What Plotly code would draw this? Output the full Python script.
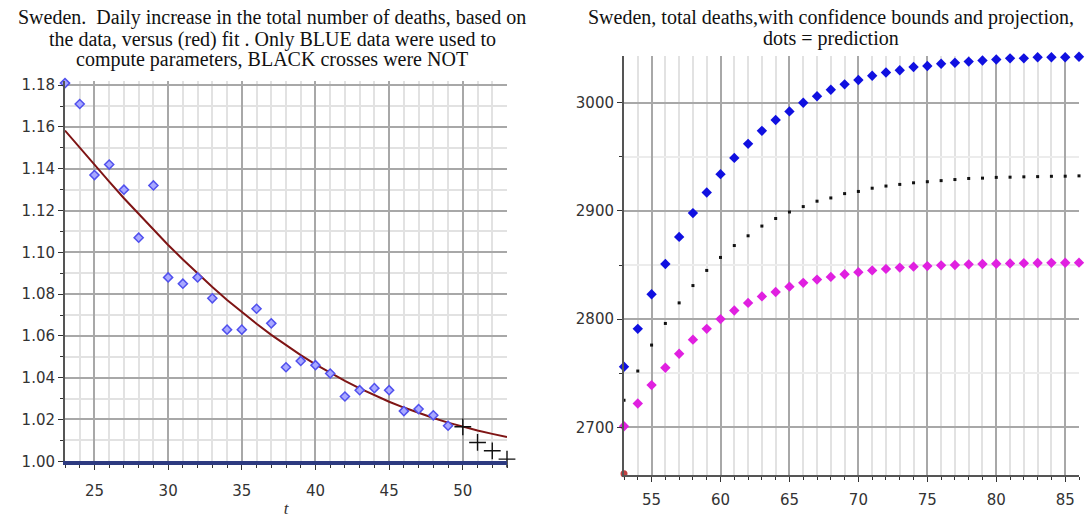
import plotly.graph_objects as go

# ---------------- Left panel data ----------------
t_blue = list(range(23, 50))
ratio_blue = [1.181, 1.171, 1.137, 1.142, 1.130, 1.107, 1.132, 1.088, 1.085, 1.088,
              1.078, 1.063, 1.063, 1.073, 1.066, 1.045, 1.048, 1.046, 1.042, 1.031,
              1.034, 1.035, 1.034, 1.024, 1.025, 1.022, 1.017]
t_black = [50, 51, 52, 53]
ratio_black = [1.0165, 1.009, 1.005, 1.001]
t_fit = list(range(23, 54))
ratio_fit = [1.1583, 1.1500, 1.1419, 1.1338, 1.1259, 1.1183, 1.1108, 1.1035, 1.0966, 1.0898,
             1.0834, 1.0772, 1.0714, 1.0658, 1.0605, 1.0555, 1.0508, 1.0464, 1.0423, 1.0385,
             1.0349, 1.0316, 1.0285, 1.0257, 1.0231, 1.0207, 1.0185, 1.0165, 1.0147, 1.0131,
             1.0116]
left_xticks = [25, 30, 35, 40, 45, 50]
left_yticks = [1.00, 1.02, 1.04, 1.06, 1.08, 1.10, 1.12, 1.14, 1.16, 1.18]

# ---------------- Right panel data ----------------
t_proj = list(range(53, 87))
upper = [2756, 2791, 2823, 2851, 2876, 2898, 2917, 2934, 2949, 2962,
         2974, 2984, 2992, 3000, 3006, 3012, 3017, 3021, 3025, 3028,
         3030, 3033, 3034, 3036, 3037, 3038, 3039, 3040, 3041, 3041,
         3042, 3042, 3042, 3042.5]
pred = [2725, 2752, 2776, 2796, 2815, 2831, 2845, 2857, 2868, 2877,
        2886, 2893, 2899, 2904, 2909, 2912, 2916, 2918, 2921, 2923,
        2924.5, 2926, 2927, 2928, 2929, 2930, 2930.3, 2931, 2931.2, 2931.5,
        2931.7, 2932, 2932.1, 2932.4]
lower = [2701, 2722, 2739, 2755, 2768, 2781, 2791, 2800, 2808, 2815,
         2821, 2825, 2830, 2833.5, 2836.5, 2839, 2841.5, 2843.4, 2845, 2846.4,
         2847.6, 2848.5, 2849, 2849.7, 2850, 2850.6, 2850.9, 2851.2, 2851.5, 2851.7,
         2851.9, 2852, 2852.1, 2852.2]
t_actual = [53]
deaths_actual = [2657]
right_xticks = [55, 60, 65, 70, 75, 80, 85]
right_yticks = [2700, 2800, 2900, 3000]

left_title = ["Sweden.  Daily increase in the total number of deaths, based on",
              "the data, versus (red) fit . Only BLUE data were used to",
              "compute parameters, BLACK crosses were NOT"]
right_title = ["Sweden, total deaths,with confidence bounds and projection,",
               "dots = prediction"]

W, H = 1091, 519
def px_x(a, b):
    return [a / W, b / W]
def px_y(top, bottom):
    return [1 - bottom / H, 1 - top / H]

fig = go.Figure()

fig.add_trace(go.Scatter(x=t_fit, y=ratio_fit, mode="lines",
                         line=dict(color="#7f1515", width=2), xaxis="x", yaxis="y",
                         showlegend=False, cliponaxis=False))
fig.add_trace(go.Scatter(x=t_blue, y=ratio_blue, mode="markers",
                         marker=dict(symbol="diamond", size=7, color="#a8a8ff",
                                     line=dict(color="#5050ee", width=1.5)),
                         xaxis="x", yaxis="y", showlegend=False, cliponaxis=False))
fig.add_trace(go.Scatter(x=t_black, y=ratio_black, mode="markers",
                         marker=dict(symbol="cross-thin", size=12, color="#111",
                                     line=dict(color="#111", width=1.4)),
                         xaxis="x", yaxis="y", showlegend=False, cliponaxis=False))

fig.add_trace(go.Scatter(x=t_proj, y=upper, mode="markers",
                         marker=dict(symbol="diamond", size=8, color="#1010e0"),
                         xaxis="x2", yaxis="y2", showlegend=False, cliponaxis=False))
fig.add_trace(go.Scatter(x=t_proj, y=pred, mode="markers",
                         marker=dict(symbol="square", size=3, color="#111"),
                         xaxis="x2", yaxis="y2", showlegend=False, cliponaxis=False))
fig.add_trace(go.Scatter(x=t_proj, y=lower, mode="markers",
                         marker=dict(symbol="diamond", size=8, color="#e020e0"),
                         xaxis="x2", yaxis="y2", showlegend=False, cliponaxis=False))
fig.add_trace(go.Scatter(x=t_actual, y=deaths_actual, mode="markers",
                         marker=dict(symbol="circle", size=7, color="#c04040"),
                         xaxis="x2", yaxis="y2", showlegend=False, cliponaxis=False))

tickfont = dict(family="DejaVu Sans", size=15, color="#333")
major_grid = "#a8a8a8"
minor_grid = "#e2e2e2"

fig.update_layout(
    width=W, height=H, margin=dict(l=0, r=0, t=0, b=0),
    paper_bgcolor="white", plot_bgcolor="white",
    xaxis=dict(domain=px_x(65, 507), range=[23, 53], tickvals=left_xticks,
               showgrid=True, gridcolor=major_grid, gridwidth=1.5,
               ticks="outside", ticklen=5, tickcolor="#333", tickfont=tickfont,
               ticklabelstandoff=8,
               showline=True, linecolor="#2d3a80", linewidth=4,
               minor=dict(dtick=1, tick0=0, ticks="outside", ticklen=3, tickcolor="#333",
                          showgrid=True, gridcolor=minor_grid),
               title=dict(text="<i>t</i>", font=dict(family="Liberation Serif", size=17, color="#333"),
                          standoff=4),
               zeroline=False, anchor="y"),
    yaxis=dict(domain=px_y(79, 469), range=[1.0, 1.182], tickvals=left_yticks,
               tickformat=".2f",
               showgrid=True, gridcolor=major_grid, gridwidth=1.5,
               ticks="outside", ticklen=5, tickcolor="#333", tickfont=tickfont,
               showline=True, linecolor="#555", linewidth=2,
               minor=dict(dtick=0.01, tick0=1.0, ticks="outside", ticklen=3, tickcolor="#333",
                          showgrid=True, gridcolor=minor_grid),
               zeroline=False, anchor="x"),
    xaxis2=dict(domain=px_x(624, 1079), range=[53, 86], tickvals=right_xticks,
                showgrid=True, gridcolor=major_grid, gridwidth=1.5,
                ticks="outside", ticklen=5, tickcolor="#333", tickfont=tickfont,
                ticklabelstandoff=5,
                showline=True, linecolor="#555", linewidth=2,
                minor=dict(dtick=1, tick0=0, ticks="outside", ticklen=3, tickcolor="#333",
                           showgrid=True, gridcolor=minor_grid),
                zeroline=False, anchor="y2"),
    yaxis2=dict(domain=px_y(53, 483), range=[2656, 3043.5], tickvals=right_yticks,
                showgrid=True, gridcolor=major_grid, gridwidth=1.5,
                ticks="outside", ticklen=5, tickcolor="#333", tickfont=tickfont,
                showline=True, linecolor="#555", linewidth=2,
                minor=dict(dtick=50, tick0=0, ticks="outside", ticklen=3, tickcolor="#333",
                           showgrid=True, gridcolor="#ececec"),
                zeroline=False, anchor="x2"),
)

titlefont = dict(family="Liberation Serif", size=20, color="#111")
for line, yc in zip(left_title, [14, 36, 57]):
    fig.add_annotation(text=line, xref="paper", yref="paper", x=272 / W, y=1 - yc / H,
                       xanchor="center", yanchor="middle", showarrow=False, font=titlefont)
for line, yc in zip(right_title, [14, 35]):
    fig.add_annotation(text=line, xref="paper", yref="paper", x=831 / W, y=1 - yc / H,
                       xanchor="center", yanchor="middle", showarrow=False, font=titlefont)

fig.write_html("out.html")
